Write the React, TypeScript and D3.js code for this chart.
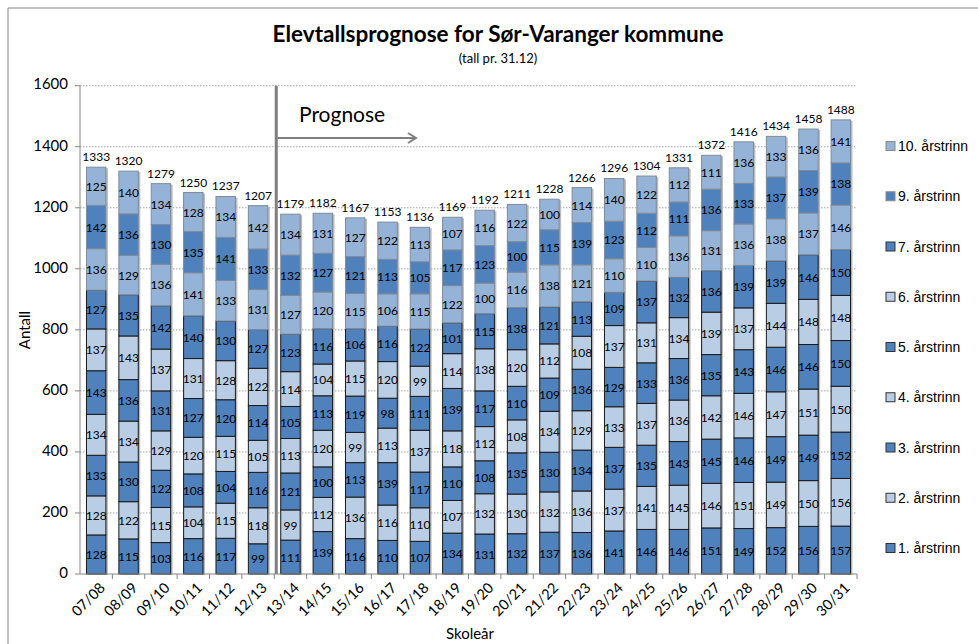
import React from "react";
import * as d3 from "d3";

// school years
const categories = [
  "07/08", "08/09", "09/10", "10/11", "11/12", "12/13", "13/14", "14/15",
  "15/16", "16/17", "17/18", "18/19", "19/20", "20/21", "21/22", "22/23",
  "23/24", "24/25", "25/26", "26/27", "27/28", "28/29", "29/30", "30/31",
];

// pupils per grade (1. to 10. årstrinn)
const trinn1 = [128, 115, 103, 116, 117, 99, 111, 139, 116, 110, 107, 134, 131, 132, 137, 136, 141, 146, 146, 151, 149, 152, 156, 157];
const trinn2 = [128, 122, 115, 104, 115, 118, 99, 112, 136, 116, 110, 107, 132, 130, 132, 136, 137, 141, 145, 146, 151, 149, 150, 156];
const trinn3 = [133, 130, 122, 108, 104, 116, 121, 100, 113, 139, 117, 110, 108, 135, 130, 134, 137, 135, 143, 145, 146, 149, 149, 152];
const trinn4 = [134, 134, 129, 120, 115, 105, 113, 120, 99, 113, 137, 118, 112, 108, 134, 129, 133, 137, 136, 142, 146, 147, 151, 150];
const trinn5 = [143, 136, 131, 127, 120, 114, 105, 113, 119, 98, 111, 139, 117, 110, 109, 136, 129, 133, 136, 135, 143, 146, 146, 150];
const trinn6 = [137, 143, 137, 131, 128, 122, 114, 104, 115, 120, 99, 114, 138, 120, 112, 108, 137, 131, 134, 139, 137, 144, 148, 148];
const trinn7 = [127, 135, 142, 140, 130, 127, 123, 116, 106, 116, 122, 101, 115, 138, 121, 113, 109, 137, 132, 136, 139, 139, 146, 150];
const trinn8 = [136, 129, 136, 141, 133, 131, 127, 120, 115, 106, 115, 122, 100, 116, 138, 121, 110, 110, 136, 131, 136, 138, 137, 146];
const trinn9 = [142, 136, 130, 135, 141, 133, 132, 127, 121, 113, 105, 117, 123, 100, 115, 139, 123, 112, 111, 136, 133, 137, 139, 138];
const trinn10 = [125, 140, 134, 128, 134, 142, 134, 131, 127, 122, 113, 107, 116, 122, 100, 114, 140, 122, 112, 111, 136, 133, 136, 141];

const seriesNames = [
  "1. årstrinn", "2. årstrinn", "3. årstrinn", "4. årstrinn", "5. årstrinn",
  "6. årstrinn", "7. årstrinn", "8. årstrinn", "9. årstrinn", "10. årstrinn",
];
const seriesValues = [trinn1, trinn2, trinn3, trinn4, trinn5, trinn6, trinn7, trinn8, trinn9, trinn10];

// legend only shows these (8. årstrinn is cut off in the original)
const legendNames = [
  "10. årstrinn", "9. årstrinn", "7. årstrinn", "6. årstrinn", "5. årstrinn",
  "4. årstrinn", "3. årstrinn", "2. årstrinn", "1. årstrinn",
];

const yTicks = [0, 200, 400, 600, 800, 1000, 1200, 1400, 1600];

const DARK = "#4f81bd";
const LIGHT = "#b9cde5";
const MID = "#95b3d7";
const fills = [DARK, LIGHT, DARK, LIGHT, DARK, LIGHT, DARK, MID, DARK, MID];
const strokes = ["#1a1a1a", "#1a1a1a", "#1a1a1a", "#1a1a1a", "#1a1a1a", "#1a1a1a", "#1a1a1a", "#7f8a99", "#7f8a99", "#7f8a99"];

const FONT = "Lato, 'Open Sans', sans-serif";

export default function App() {
  const width = 978;
  const height = 644;
  const left = 80;
  const right = 857;
  const top = 85.7;
  const bottom = 574;

  //table for d3.stack
  const rows = categories.map((c, i) => {
    const r: any = { cat: c };
    seriesNames.forEach((n, j) => (r[n] = seriesValues[j][i]));
    return r;
  });
  const stacked = d3.stack().keys(seriesNames)(rows);
  const totals = categories.map((_, i) => d3.sum(seriesValues, (s) => s[i]));

  const x = d3.scaleBand().domain(categories).range([left, right]).paddingInner(0.4).paddingOuter(0.2);
  const y = d3.scaleLinear().domain([0, 1600]).range([bottom, top]);
  const step = x.step();
  const prognoseX = left + categories.indexOf("13/14") * step;

  return (
    <svg width={width} height={height} style={{ position: "absolute", left: 0, top: 0, background: "#fff" }}>
      {/* frame */}
      <line x1={8} y1={8} x2={width} y2={8} stroke="#868686" />
      <line x1={8} y1={8} x2={8} y2={height} stroke="#868686" />

      {/* title */}
      <text x={498} y={42} textAnchor="middle" fontFamily={FONT} fontWeight="bold" fontSize={22.5} fill="#000">
        Elevtallsprognose for Sør-Varanger kommune
      </text>
      <text x={498} y={63} textAnchor="middle" fontFamily={FONT} fontSize={13} fill="#000">
        (tall pr. 31.12)
      </text>

      {/* gridlines + y labels */}
      {yTicks.map((t) => (
        <g key={t}>
          {t !== 0 && (
            <line x1={left} x2={right} y1={y(t)} y2={y(t)} stroke="#a6a6a6" strokeDasharray="1.5,1.5" />
          )}
          <line x1={left - 5} x2={left} y1={y(t)} y2={y(t)} stroke="#868686" />
          <text x={68} y={y(t)} textAnchor="end" dominantBaseline="middle" fontFamily={FONT} fontSize={15} fill="#000">
            {t}
          </text>
        </g>
      ))}

      {/* bar shadows */}
      {stacked.map((layer, j) => (
        <g key={j}>
          {layer.map((d, i) => {
            const bx = x(categories[i]) as number;
            const y0 = y(d[1]);
            const h = y(d[0]) - y(d[1]);
            return <rect key={i} x={bx + 2} y={y0 + 1} width={x.bandwidth()} height={h} fill="#bdbdbd" />;
          })}
        </g>
      ))}

      {/* bars + labels */}
      {stacked.map((layer, j) => (
        <g key={"s" + j}>
          {layer.map((d, i) => {
            const bx = x(categories[i]) as number;
            const y0 = y(d[1]);
            const h = y(d[0]) - y(d[1]);
            return (
              <g key={i}>
                <rect x={bx} y={y0} width={x.bandwidth()} height={h} fill={fills[j]} stroke={strokes[j]} strokeWidth={1} />
                <text
                  x={bx + x.bandwidth() / 2}
                  y={y0 + h / 2}
                  textAnchor="middle"
                  dominantBaseline="central"
                  fontFamily={FONT}
                  fontSize={12}
                  fill="#000"
                >
                  {seriesValues[j][i]}
                </text>
              </g>
            );
          })}
        </g>
      ))}

      {/* totals */}
      {categories.map((c, i) => (
        <text
          key={c}
          x={(x(c) as number) + x.bandwidth() / 2}
          y={y(totals[i]) - 6}
          textAnchor="middle"
          fontFamily={FONT}
          fontSize={12}
          fill="#000"
        >
          {totals[i]}
        </text>
      ))}

      {/* axes */}
      <line x1={left} x2={left} y1={top} y2={bottom} stroke="#868686" />
      <line x1={left} x2={right} y1={bottom} y2={bottom} stroke="#868686" />
      {categories.map((c, i) => (
        <line key={c} x1={left + (i + 1) * step} x2={left + (i + 1) * step} y1={bottom} y2={bottom + 5} stroke="#868686" />
      ))}

      {/* x labels */}
      {categories.map((c) => {
        const cx = (x(c) as number) + x.bandwidth() / 2 + 6;
        const cy = bottom + 11;
        return (
          <text
            key={c}
            x={cx}
            y={cy}
            transform={`rotate(-45 ${cx} ${cy})`}
            textAnchor="end"
            dominantBaseline="central"
            fontFamily={FONT}
            fontSize={14.5}
            fill="#000"
          >
            {c}
          </text>
        );
      })}

      {/* axis titles */}
      <text x={30} y={330} transform="rotate(-90 30 330)" textAnchor="middle" fontFamily={FONT} fontSize={15} fill="#000">
        Antall
      </text>
      <text x={470} y={639} textAnchor="middle" fontFamily={FONT} fontSize={15} fill="#000">
        Skoleår
      </text>

      {/* prognose marker */}
      <line x1={prognoseX + 2} x2={prognoseX + 2} y1={top} y2={bottom} stroke="#7f7f7f" strokeWidth={3} />
      <text x={299} y={122} fontFamily={FONT} fontSize={21} fill="#000">
        Prognose
      </text>
      <line x1={prognoseX + 3} x2={416} y1={138} y2={138} stroke="#7f7f7f" strokeWidth={2} />
      <path d="M 408 133 L 416 138 L 408 143" fill="none" stroke="#7f7f7f" strokeWidth={2} />

      {/* legend */}
      {legendNames.map((n, i) => {
        const j = seriesNames.indexOf(n);
        const ly = 146 + i * 50.25;
        return (
          <g key={n}>
            <rect x={886} y={ly - 4.5} width={9} height={9} fill={fills[j]} stroke={j < 7 ? "#333" : "#8a8a8a"} />
            <text x={898} y={ly} dominantBaseline="central" fontFamily="'Liberation Sans', Arial, sans-serif" fontSize={14} fill="#000">
              {n}
            </text>
          </g>
        );
      })}
    </svg>
  );
}
